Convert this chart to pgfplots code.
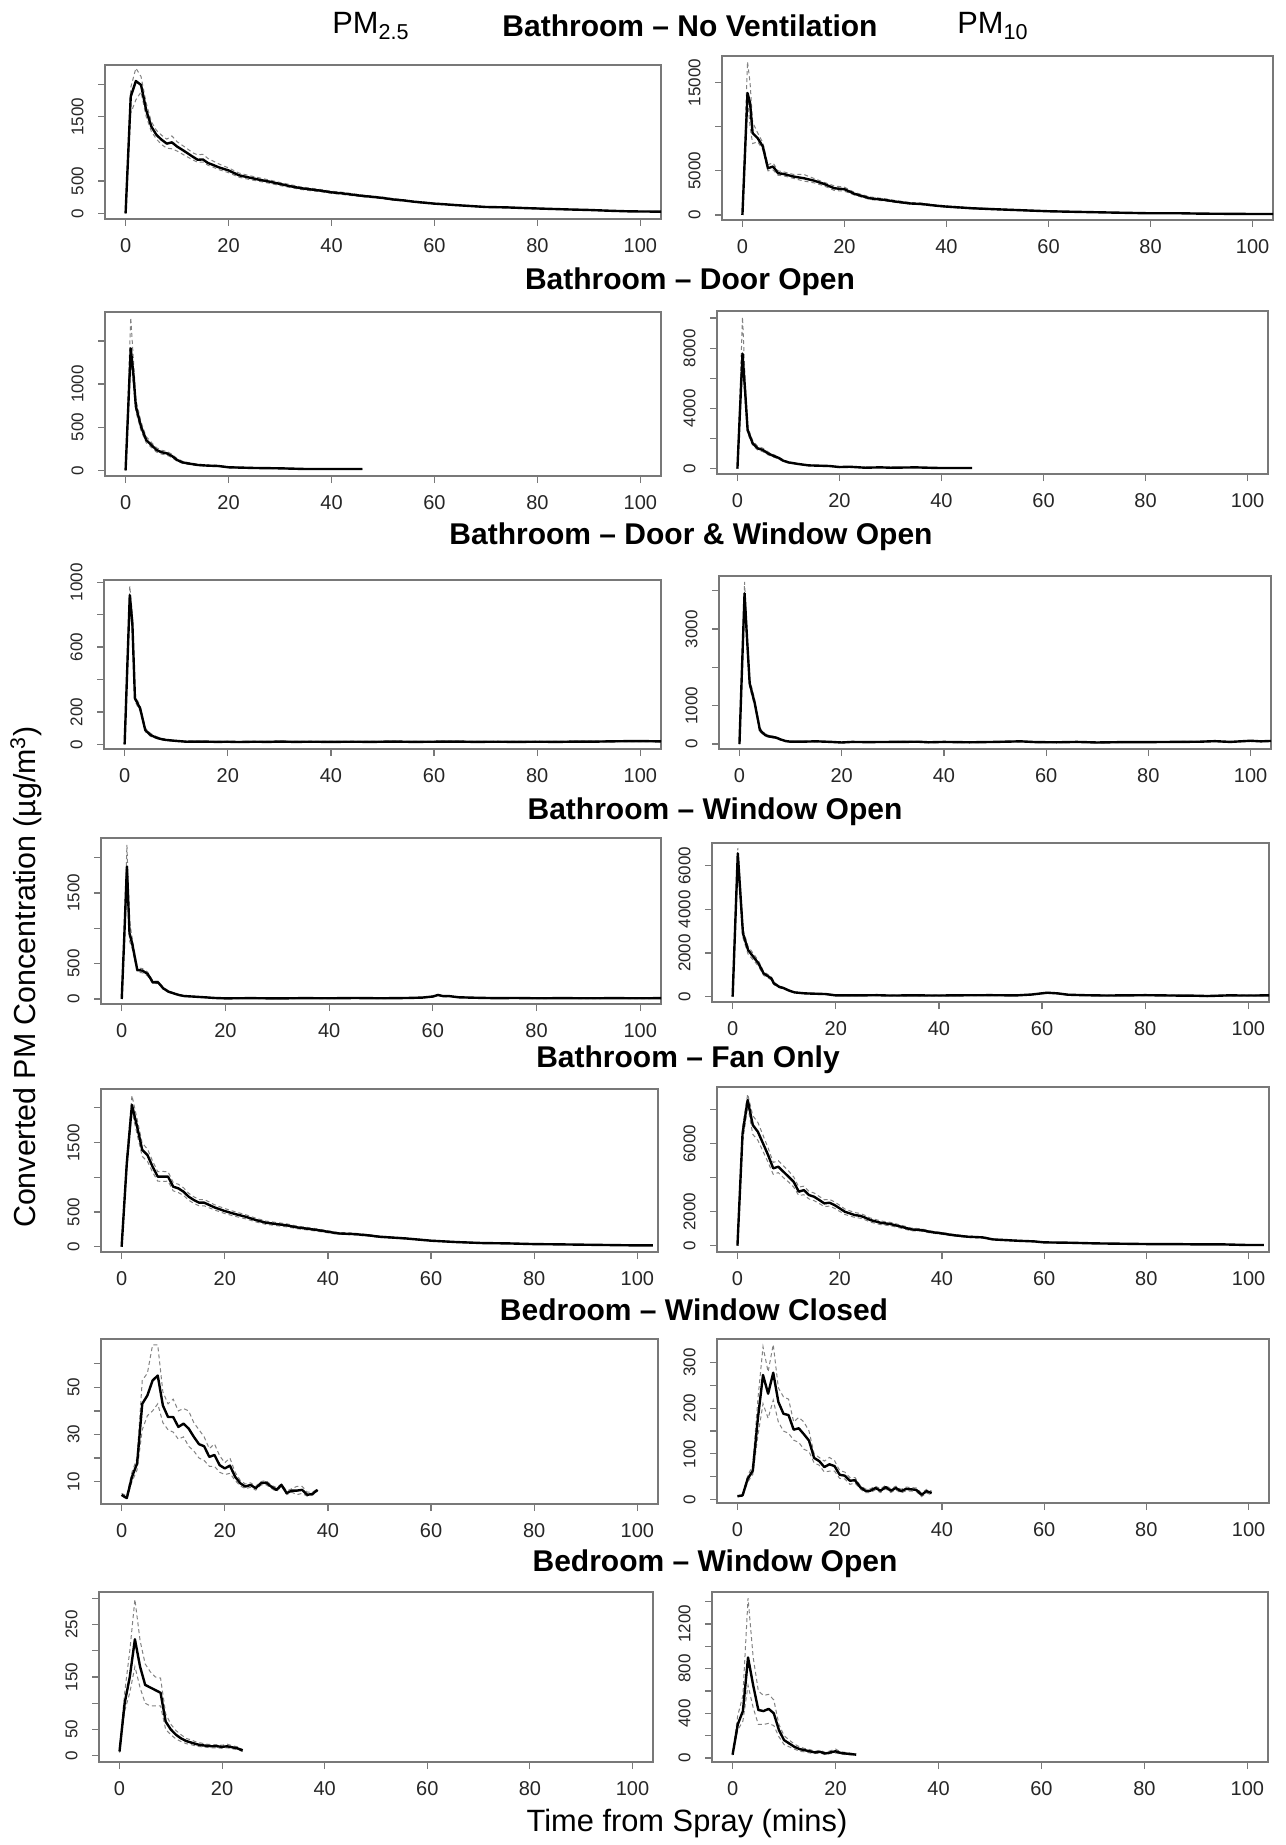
\documentclass[border=0pt]{standalone}
\usepackage{pgfplots}
\pgfplotsset{compat=1.18}
\usepackage{pgfplotstable}
\usepackage{fontspec}
\setmainfont{Liberation Sans}
\definecolor{boxgray}{RGB}{120,120,120}
\definecolor{cigray}{RGB}{130,130,130}

\pgfplotstableread{
x m lo hi
0 0 0 0
1 1810 1550 1950
2 2050 1760 2250
3 1990 1880 2120
4 1600 1500 1710
5 1345 1270 1420
6 1215 1150 1285
7 1140 1065 1210
8 1080 1010 1150
9 1100 1000 1200
10 1035 965 1110
11 985 920 1055
12 933 875 1000
13 880 830 940
14 830 790 905
15 835 795 915
16 780 745 850
17 750 715 810
18 716 680 770
19 690 655 735
20 665 630 705
22 590 560 625
24 555 525 585
26 520 495 550
28 490 465 515
30 455 430 478
32 420 400 445
34 390 370 410
36 370 350 390
38 350 333 368
40 325 310 342
42 310 293 327
44 290 275 305
46 270 256 285
48 255 242 268
50 238 225 250
52 215 203 228
54 200 190 212
56 180 170 190
58 165 156 175
60 150 142 158
62 140 132 148
64 128 121 136
66 118 111 125
68 108 102 115
70 98 92 104
74 92 86 98
78 80 75 85
82 70 66 75
86 60 56 64
90 52 49 56
94 40 37 43
98 30 28 33
104 26 24 28
}\tA

\pgfplotstableread{
x m lo hi
0 0 0 0
1 13830 13200 17380
1.5 12700 10000 15000
2 9280 8100 10500
3 8700 8300 9300
4 7770 7400 8200
5 5300 5000 5700
6 5490 5100 5900
7 4730 4500 5000
8 4660 4450 4900
10 4360 4150 4600
12 4170 3850 4600
14 3900 3650 4150
16 3520 3300 3700
18 3030 2780 3300
20 2920 2700 3150
22 2390 2250 2550
25 1890 1750 2050
28 1700 1580 1830
30 1520 1420 1640
33 1300 1220 1400
35 1250 1160 1350
38 1050 980 1130
40 950 880 1030
45 760 700 830
50 640 590 700
55 530 490 575
60 420 390 455
65 360 335 390
70 300 280 325
80 190 175 205
85 200 185 215
90 150 140 162
95 130 120 140
100 110 100 120
104 110 100 120
}\tB

\pgfplotstableread{
x m lo hi
0 0 0 0
1 1415 1300 1770
1.5 1125 1000 1300
2 740 680 820
3 507 460 560
4 352 320 390
5 294 266 325
6 236 212 262
7 209 188 232
8 197 176 220
9 166 148 186
10 120 106 136
11 93 82 106
12 81 71 92
14 62 54 71
16 54 47 62
18 50 44 57
20 35 30 41
25 27 23 32
30 23 20 27
35 15 12 18
40 15 12 18
46 15 12 18
}\tC

\pgfplotstableread{
x m lo hi
0 0 0 0
1 7640 6900 10066
1.5 5210 4500 6000
2 2560 2350 2800
3 1680 1540 1850
4 1350 1230 1480
5 1240 1130 1360
6 1015 920 1120
7 860 780 950
8 730 660 800
9 530 480 585
10 420 380 462
12 310 280 340
14 220 198 242
16 200 180 220
18 180 162 198
20 110 99 121
22 130 117 143
25 66 59 73
28 90 81 99
30 66 59 73
33 80 72 88
35 88 79 97
38 60 54 66
40 44 40 48
46 44 40 48
}\tD

\pgfplotstableread{
x m lo hi
0 0 0 0
1 921 860 977
1.5 747 700 800
2 284 265 300
3 222 205 240
4 88 78 100
5 58 50 68
6 43 37 50
7 33 28 38
8 27 23 31
10 21 18 24
12 16 13 19
15 17 14 20
18 15 12 18
20 16 13 19
22 14 11 17
25 16 13 19
28 15 12 18
30 17 14 20
33 15 12 18
36 16 13 19
40 15 12 18
44 16 13 19
48 15 12 18
52 17 14 20
56 15 12 18
60 16 13 19
64 17 14 20
68 15 12 18
72 16 13 19
76 15 12 18
80 16 13 19
84 15 12 18
88 17 14 20
92 17 14 20
96 19 16 22
100 20 17 23
104 18 15 21
}\tE

\pgfplotstableread{
x m lo hi
0 0 0 0
1 3934 3700 4230
1.5 2715 2550 2900
2 1584 1480 1700
3 1062 980 1150
4 366 320 420
5 235 205 270
6 191 165 220
7 174 150 200
8 122 105 140
9 78 66 90
10 61 52 70
12 61 52 70
15 70 60 80
18 55 45 65
20 40 30 50
22 55 45 65
25 50 40 60
30 55 45 65
35 60 50 70
37 45 35 55
40 55 45 65
45 45 35 55
50 55 45 65
55 70 60 80
58 50 40 60
62 45 35 55
66 55 45 65
70 40 30 50
75 50 40 60
80 50 40 60
85 55 45 65
90 60 50 70
93 75 65 85
96 55 45 65
100 85 75 95
102 70 60 80
104 80 70 90
}\tF

\pgfplotstableread{
x m lo hi
0 0 0 0
0.5 900 800 1000
1 1873 1700 2178
1.5 929 820 1100
2 788 720 870
3 410 380 440
4 401 370 430
5 354 325 380
6 236 215 255
7 236 220 252
8 151 138 165
9 104 95 115
10 80 72 88
11 57 50 64
12 42 37 47
14 33 28 38
16 24 20 28
18 14 10 18
20 9 5 13
25 12 8 16
30 8 4 12
35 12 8 16
40 10 6 14
45 14 10 18
50 10 6 14
55 14 10 18
58 20 15 25
60 35 28 42
61 57 48 66
62 40 33 47
63 42 35 49
65 24 19 29
68 18 14 22
72 12 8 16
76 14 10 18
80 10 6 14
85 12 8 16
90 10 6 14
95 12 8 16
100 10 6 14
104 12 8 16
}\tG

\pgfplotstableread{
x m lo hi
0 0 0 0
1 6565 6000 6810
1.5 4730 4300 5100
2 2900 2700 3100
3 2140 1950 2300
4 1830 1680 1980
5 1530 1400 1650
6 1070 980 1160
7 916 840 990
7.5 840 770 910
8 610 555 670
9 458 415 500
10 382 345 420
11 275 250 300
12 198 180 218
14 153 135 170
16 137 120 155
18 122 105 140
20 61 45 80
25 61 45 80
28 70 55 85
30 55 40 70
35 60 45 75
40 55 40 70
45 65 50 80
50 70 55 85
55 60 45 75
58 100 85 115
61 183 165 200
63 153 135 170
65 92 75 110
68 70 55 85
72 55 40 70
76 60 45 75
80 70 55 85
85 55 40 70
90 45 30 60
92 30 15 45
96 60 45 75
100 55 40 70
104 60 45 75
}\tH

\pgfplotstableread{
x m lo hi
0 0 0 0
1 1200 1100 1300
2 2043 1950 2180
3 1730 1620 1840
4 1394 1300 1490
5 1322 1230 1410
6 1154 1075 1235
7 1010 945 1080
8 1010 940 1085
9 1010 945 1080
10 865 805 925
11 841 780 900
12 793 740 850
13 721 670 770
14 673 625 720
15 635 590 680
16 635 590 680
17 601 560 645
18 567 530 605
20 514 478 550
22 471 438 504
24 433 403 463
26 385 358 412
28 346 322 370
30 327 304 350
32 308 286 330
34 279 260 298
36 260 242 278
38 240 223 257
40 216 201 231
42 192 179 205
45 183 170 196
48 163 152 174
50 144 134 154
55 120 112 128
60 87 81 93
65 67 62 72
70 53 49 57
75 48 45 51
80 38 35 41
85 34 32 36
90 29 27 31
95 24 22 26
100 19 18 20
103 19 18 20
}\tI

\pgfplotstableread{
x m lo hi
0 0 0 0
1 6600 6100 7000
2 8570 8200 8920
3 7100 6550 7650
4 6700 6200 7250
5 6020 5550 6500
6 5330 4900 5750
7 4550 4200 4900
8 4650 4300 5000
9 4350 4000 4700
10 4060 3750 4400
11 3760 3450 4050
12 3180 2950 3450
13 3270 3000 3500
14 2980 2750 3200
15 2880 2650 3100
16 2690 2480 2900
17 2490 2300 2700
18 2530 2330 2730
19 2390 2200 2580
20 2200 2020 2380
21 2000 1840 2160
22 1900 1750 2050
23 1800 1660 1950
24 1760 1620 1900
25 1650 1520 1780
26 1510 1390 1630
28 1350 1240 1460
30 1270 1170 1370
32 1120 1030 1210
34 960 880 1040
36 920 850 990
38 800 740 860
40 725 670 780
42 630 580 680
45 530 490 570
48 490 450 530
50 370 340 400
55 290 265 315
58 255 235 275
60 196 180 212
65 176 162 190
70 137 126 148
75 118 108 128
80 98 90 106
85 98 90 106
90 78 72 84
95 78 72 84
100 40 36 44
103 40 36 44
}\tJ

\pgfplotstableread{
x m lo hi
0 4.4 4 5
1 3 2.5 4
2 12 10 14
3 17.7 15 20
4 43 32 53
5 46.6 38 56
6 52.9 40 68
7 55 43 68
8 42.3 35 48
9 37.4 32 43
10 37.4 31 45
11 33.2 28 40
12 34.6 29 41
13 32.5 25 40
14 29 23 35
15 25.9 20 32
16 25 19 29
17 20.5 16.5 24
18 21.3 16.5 26
19 17 14 21
20 15.6 13 18
21 16.8 13.5 20
22 12.1 10.5 14
23 9.3 8.2 10.5
24 7.9 7 9
25 8.6 7.6 9.5
26 7.2 6.4 8
27 9.3 8.5 10
28 9.6 8.7 10.5
29 7.9 7.2 8.5
30 6.5 5.8 7.5
31 8.6 8 9
32 5.1 4.5 6
33 6.2 5.5 7
34 6.2 4.5 8
35 6.5 5 8
36 4.4 3.8 5.5
37 4.8 4.2 5.5
38 6.5 6 7
}\tK

\pgfplotstableread{
x m lo hi
0 7 6 8
1 8.6 7 10
2 45 38 52
3 63 55 75
4 178 140 220
5 273 210 335
6 232 178 280
7 278 218 340
8 214 170 245
9 188 150 225
10 185 145 220
11 153 130 170
12 156 125 180
13 143 110 170
14 129 105 150
15 91 80 100
16 84 75 92
17 71 60 84
18 77 62 92
19 73 62 85
20 54 46 63
21 52 45 60
22 41 33 48
23 42 36 48
24 27 23 31
25 19 15 23
26 19 15 23
27 25 21 29
28 19 15 23
29 27 23 31
30 19 15 23
31 25 21 29
32 18 14 22
33 23 19 27
34 22 18 26
35 21 17 25
36 10 6 14
37 18 14 22
38 14 10 18
}\tL

\pgfplotstableread{
x m lo hi
0 8 6 10
1 100 85 120
2 150 120 200
3 222 170 298
4 170 130 220
5 135 100 175
6 130 95 160
7 125 95 150
8 120 95 148
9 65 50 80
10 50 40 60
11 40 32 48
12 33 27 40
13 28 23 33
14 25 21 30
15 22 18 26
16 20 17 24
17 19 16 22
18 18 15 21
19 18 15 21
20 17 14 20
21 18 15 22
22 16 13 19
23 14 12 17
24 10 8 12
}\tM

\pgfplotstableread{
x m lo hi
0 30 25 35
1 300 250 380
2 420 330 560
3 900 650 1430
4 650 450 900
5 430 300 600
6 420 300 560
7 440 310 570
8 400 290 520
9 250 190 300
10 160 120 200
11 130 100 160
12 100 80 125
13 80 60 100
14 70 55 85
15 60 45 75
16 50 40 60
17 55 45 70
18 40 30 50
19 50 40 65
20 60 45 80
21 45 35 55
22 40 30 50
23 35 28 42
24 30 25 35
}\tN

\pgfplotsset{
  panel/.style={
    scale only axis, anchor=north west,
    xmin=-4, xmax=104,
    xtick={0,20,40,60,80,100},
    xticklabels={0,20,40,60,80,100},
    scaled y ticks=false, scaled x ticks=false,
    tick align=outside, tick pos=left,
    major tick length=3.5pt,
    axis line style={draw=boxgray, line width=0.6pt},
    every tick/.style={draw=boxgray, line width=0.6pt},
    xticklabel style={font=\fontsize{10}{11}\selectfont, text=black!85, inner sep=0pt, anchor=north},
    xticklabel shift=6pt,
    yticklabel style={font=\fontsize{8.5}{9}\selectfont, text=black!85, rotate=90, anchor=south, inner sep=0pt},
    yticklabel shift=7pt,
    clip=true,
  },
  meanline/.style={black, line width=1.2pt, line join=round},
  ciline/.style={cigray, line width=0.5pt, dash pattern=on 2pt off 1.5pt},
}

\newcommand{\threelines}[1]{%
  \addplot[ciline] table[x=x,y=lo]{#1};
  \addplot[ciline] table[x=x,y=hi]{#1};
  \addplot[meanline] table[x=x,y=m]{#1};
}

\begin{document}
\begin{tikzpicture}
\useasboundingbox (0,0) rectangle (642.5pt,-922.5pt);

% titles
\node[anchor=base, font=\fontsize{15.4}{17}\selectfont] at (185.5pt,-17pt) {PM\textsubscript{2.5}};
\node[anchor=base, font=\fontsize{15.4}{17}\selectfont] at (496.5pt,-17pt) {PM\textsubscript{10}};
\node[anchor=base, font=\bfseries\fontsize{15}{17}\selectfont] at (345pt,-18.5pt) {Bathroom -- No Ventilation};
\node[anchor=base, font=\bfseries\fontsize{15}{17}\selectfont] at (345pt,-145pt) {Bathroom -- Door Open};
\node[anchor=base, font=\bfseries\fontsize{15}{17}\selectfont] at (345.5pt,-272pt) {Bathroom -- Door \& Window Open};
\node[anchor=base, font=\bfseries\fontsize{15}{17}\selectfont] at (357.5pt,-409.5pt) {Bathroom -- Window Open};
\node[anchor=base, font=\bfseries\fontsize{15}{17}\selectfont] at (344pt,-533.5pt) {Bathroom -- Fan Only};
\node[anchor=base, font=\bfseries\fontsize{15}{17}\selectfont] at (347pt,-660pt) {Bedroom -- Window Closed};
\node[anchor=base, font=\bfseries\fontsize{15}{17}\selectfont] at (357.5pt,-785.5pt) {Bedroom -- Window Open};

\node[rotate=90, font=\fontsize{15.2}{17}\selectfont] at (13pt,-488.5pt) {Converted PM Concentration (µg/m\textsuperscript{3})};
\node[font=\fontsize{15.4}{17}\selectfont] at (343.5pt,-912pt) {Time from Spray (mins)};

% Row 1
\begin{axis}[panel, at={(52.5pt,-32.5pt)}, width=278pt, height=77pt,
  ymin=-88, ymax=2299, ytick={0,500,1000,1500,2000}, yticklabels={0,500,,1500,}]
\threelines{\tA}
\end{axis}
\begin{axis}[panel, at={(361pt,-28pt)}, width=275.5pt, height=82pt,
  ymin=-570, ymax=18030, ytick={0,5000,10000,15000}, yticklabels={0,5000,,15000}]
\threelines{\tB}
\end{axis}

% Row 2
\begin{axis}[panel, at={(52.5pt,-156pt)}, width=278pt, height=82pt,
  ymin=-66, ymax=1836, ytick={0,500,1000,1500}, yticklabels={0,500,1000,}]
\threelines{\tC}
\end{axis}
\begin{axis}[panel, at={(358.5pt,-155.5pt)}, width=275.5pt, height=81.5pt,
  ymin=-351, ymax=10464, ytick={0,2000,4000,6000,8000,10000}, yticklabels={0,,4000,,8000,}]
\threelines{\tD}
\end{axis}

% Row 3
\begin{axis}[panel, at={(52pt,-290pt)}, width=278.5pt, height=84.5pt,
  ymin=-29, ymax=1014, ytick={0,200,400,600,800,1000}, yticklabels={0,200,,600,,1000}]
\threelines{\tE}
\end{axis}
\begin{axis}[panel, at={(359.5pt,-288pt)}, width=276pt, height=86.5pt,
  ymin=-130, ymax=4386, ytick={0,1000,2000,3000,4000}, yticklabels={0,1000,,3000,}]
\threelines{\tF}
\end{axis}

% Row 4
\begin{axis}[panel, at={(50.5pt,-419pt)}, width=280pt, height=83pt,
  ymin=-71, ymax=2277, ytick={0,500,1000,1500,2000}, yticklabels={0,500,,1500,}]
\threelines{\tG}
\end{axis}
\begin{axis}[panel, at={(356pt,-421.5pt)}, width=278.5pt, height=79.5pt,
  ymin=-243, ymax=7040, ytick={0,2000,4000,6000}, yticklabels={0,2000,4000,6000}]
\threelines{\tH}
\end{axis}

% Row 5
\begin{axis}[panel, at={(50.5pt,-544.5pt)}, width=278.5pt, height=81.5pt,
  ymin=-76, ymax=2272, ytick={0,500,1000,1500,2000}, yticklabels={0,500,,1500,}]
\threelines{\tI}
\end{axis}
\begin{axis}[panel, at={(358.5pt,-543.5pt)}, width=276pt, height=82.5pt,
  ymin=-370, ymax=9335, ytick={0,2000,4000,6000,8000}, yticklabels={0,2000,,6000,}]
\threelines{\tJ}
\end{axis}

% Row 6
\begin{axis}[panel, at={(50.5pt,-669.5pt)}, width=278.5pt, height=82.5pt,
  ymin=0.5, ymax=70.5, ytick={10,20,30,40,50,60}, yticklabels={10,,30,,50,}]
\threelines{\tK}
\end{axis}
\begin{axis}[panel, at={(358.5pt,-669.5pt)}, width=276pt, height=82pt,
  ymin=-8, ymax=352, ytick={0,50,100,150,200,250,300}, yticklabels={0,,100,,200,,300}]
\threelines{\tL}
\end{axis}

% Row 7
\begin{axis}[panel, at={(49.5pt,-796pt)}, width=277pt, height=85pt,
  ymin=-12, ymax=312, ytick={0,50,100,150,200,250,300}, yticklabels={0,50,,150,,250,}]
\threelines{\tM}
\end{axis}
\begin{axis}[panel, at={(356pt,-796pt)}, width=278pt, height=85pt,
  ymin=-36, ymax=1486, ytick={0,200,400,600,800,1000,1200,1400}, yticklabels={0,,400,,800,,1200,}]
\threelines{\tN}
\end{axis}

\end{tikzpicture}
\end{document}
